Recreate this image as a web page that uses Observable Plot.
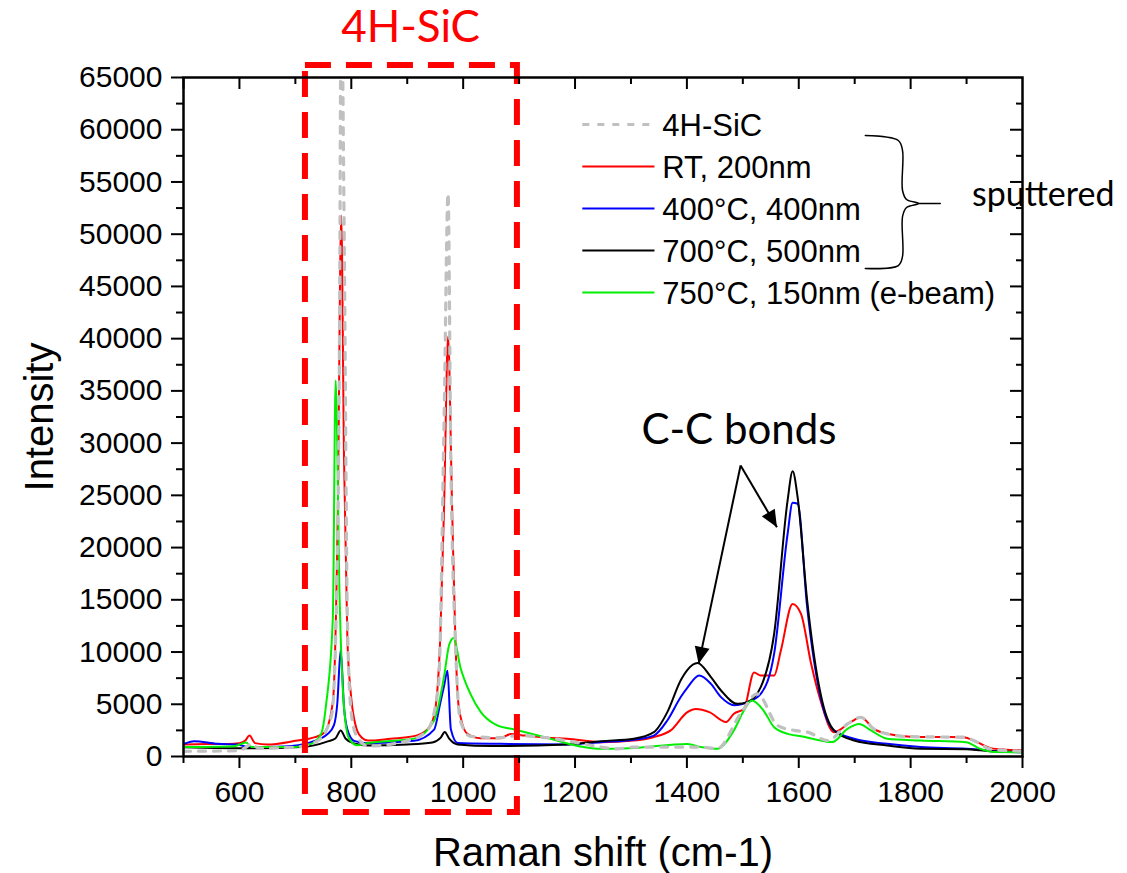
<!DOCTYPE html>
<html><head><meta charset="utf-8">
<script src="https://cdn.jsdelivr.net/npm/d3@7"></script>
<script src="https://cdn.jsdelivr.net/npm/@observablehq/plot@0.6"></script>
<style>body{margin:0;background:#fff} svg{display:block}</style>
</head><body><div id="chart"></div>
<script>
// ---- Data (Raman shift in cm-1, intensity in counts) ----
const sicX = [500,600,612,621,635,700,740,765,773,779,782,787,793,799,808,830,900,936,956,966,973,978,986,995,1013,1067,1097,1216,1246,1276,1305,1425,1454,1496,1526,1562,1592,1616,1652,1687,1711,1734,1758,1800,1850,1894,1919,1943,2000];
const sicY = [500,560,900,1200,800,900,1500,4000,13250,41000,75000,51700,13250,4700,2140,1000,1500,2500,6840,32500,53900,28200,11100,3420,1920,1800,2000,1210,900,730,900,900,750,4100,6000,2970,2500,2330,1530,3120,3750,2650,2170,1900,1870,1850,1370,700,500];

const rtX = [500,540,580,600,610,618,628,650,700,735,752,767,776,782,787,793,799,811,820,830,870,912,936,948,959,966,973,980,986,992,1007,1031,1066,1085,1110,1150,1186,1246,1305,1340,1371,1401,1416,1440,1470,1484,1502,1520,1532,1556,1568,1589,1604,1622,1639,1663,1693,1711,1734,1758,1800,1850,1894,1919,1943,1970,2000];
const rtY = [1150,1200,1200,1280,1500,2000,1280,1150,1500,1850,2300,5200,24000,51800,28500,11300,6100,2400,1750,1520,1700,1950,2600,3900,11300,24300,40200,24300,11300,4800,2200,1750,1750,2150,2000,1800,1700,1370,1530,1850,2500,4250,4550,4250,3300,4100,4550,8050,7750,7750,10150,14600,13650,8900,5350,2330,3300,3750,2650,2170,1900,1870,1850,1370,800,650,600];

const c400X = [500,519,561,597,615,680,728,758,769,775,781,787,793,805,830,912,948,959,966,972,978,990,1067,1186,1246,1305,1341,1365,1389,1401,1422,1443,1461,1485,1508,1532,1556,1580,1589,1598,1615,1639,1663,1699,1758,1818,1900,1925,1950,2000];
const c400Y = [1200,1470,1210,1150,900,960,1380,2170,3000,5100,10200,4700,2570,1500,1280,1500,2570,5100,6800,8200,2600,1300,1210,1150,1370,1600,2000,3450,5700,6600,7750,6950,5680,4900,5200,6000,9850,21300,24300,24200,14300,5680,2500,1700,1210,900,750,650,500,400];

const c700X = [500,620,710,758,772,781,790,805,830,900,945,960,967,975,990,1050,1186,1246,1305,1341,1365,1389,1401,1419,1443,1461,1490,1508,1532,1556,1580,1589,1598,1615,1639,1663,1699,1758,1818,1900,1925,1950,2000];
const c700Y = [880,780,900,1450,1750,2500,1700,1250,1050,1150,1350,1800,2350,1700,1150,1000,1150,1470,1700,2330,4250,7300,8300,8950,7600,6320,5040,5200,6640,11750,24500,27300,24800,14950,6000,2500,1530,1050,730,690,600,500,450];

const c750X = [500,590,612,622,700,728,746,755,767,772,779,787,796,811,829,912,948,966,975,983,995,1013,1031,1060,1090,1156,1216,1246,1305,1401,1425,1454,1484,1502,1516,1537,1556,1580,1609,1639,1660,1687,1708,1729,1758,1818,1899,1925,1950,2000];
const c750Y = [900,980,1350,900,900,1210,2170,5000,13300,36000,15400,4700,1710,1070,1280,1710,3420,7700,10700,11350,8550,6000,4300,3000,2600,1700,900,730,820,1200,900,730,2500,4400,5350,4400,2800,2170,1900,1530,1380,2650,3120,2500,1700,1530,1370,730,420,400];

const seriesNames = ["4H-SiC", "RT, 200nm", "400°C, 400nm", "700°C, 500nm", "750°C, 150nm (e-beam)"];
const seriesColors = ["#c0c0c0", "#ff0000", "#0000ff", "#000000", "#00ee00"];

// tick values
const xMajorTicks = [600, 800, 1000, 1200, 1400, 1600, 1800, 2000];
const xMinorTicks = [500, 700, 900, 1100, 1300, 1500, 1700, 1900];
const yMajorTicks = d3.range(0, 65001, 5000);
const yMinorTicks = d3.range(2500, 65000, 5000);

// annotations (data coordinates)
const boxX = [718, 1097];
const boxY = [-5360, 66150];
const arrowLinks = [
  {x1: 1496, y1: 27860, x2: 1421, y2: 8870},
  {x1: 1496, y1: 27860, x2: 1561, y2: 21950}
];
const braceX = [1719, 1778, 1785.5, 1785.5, 1792.7, 1814, 1792.7, 1785.5, 1785.5, 1778, 1719];
const braceY = [59450, 58970, 58010, 54180, 53320, 52940, 52560, 51690, 47870, 47000, 46720];
const braceStemX = [1814, 1853];
const braceStemY = [52940, 52940];

// ---- Build table ----
const seriesX = [sicX, rtX, c400X, c700X, c750X];
const seriesY = [sicY, rtY, c400Y, c700Y, c750Y];
const rows = seriesNames.flatMap((name, k) => seriesX[k].map((x, i) => ({series: name, x, y: seriesY[k][i]})));

// legend rows (data coords within frame)
const legendY = [60500, 56480, 52460, 48440, 44420];
const legendRows = seriesNames.map((name, i) => ({name, color: seriesColors[i], y: legendY[i]}));
const legX1 = 1213, legX2 = 1342, legTextX = 1356;

const W = 1127, H = 873, ML = 183, MR = 105, MT = 77, MB = 117;
const FW = W - ML - MR, FH = H - MT - MB;
const ARIAL = "'Liberation Sans', Arial, sans-serif";
const CAL = "Lato, 'Open Sans', sans-serif";
const DOTS = "7,8";

const drawOrder = [1, 2, 3, 4, 0];
const lineMarks = drawOrder.map(k => Plot.line(rows.filter(r => r.series === seriesNames[k]), {
  x: "x", y: "y",
  stroke: seriesColors[k],
  strokeWidth: k === 0 ? 3.2 : 2,
  strokeDasharray: k === 0 ? DOTS : null,
  curve: "monotone-x",
  clip: true
}));

const plot = Plot.plot({
  width: W, height: H,
  marginLeft: ML, marginRight: MR, marginTop: MT, marginBottom: MB,
  x: {domain: [500, 2000], axis: null},
  y: {domain: [0, 65000], axis: null},
  style: {fontFamily: ARIAL, fontSize: "30px", color: "black", background: "white", overflow: "visible"},
  marks: [
    ...lineMarks,
    // dashed red box
    Plot.rect([{x1: boxX[0], x2: boxX[1], y1: boxY[0], y2: boxY[1]}], {
      x1: "x1", x2: "x2", y1: "y1", y2: "y2",
      fill: "none", stroke: "#ff0000", strokeWidth: 6, strokeDasharray: "26,15"
    }),
    Plot.text(["4H-SiC"], {x: 906, y: 69740, text: d => d, fill: "#ff0000", fontFamily: CAL, fontSize: 44, textAnchor: "middle", lineAnchor: "middle"}),
    // frame
    Plot.frame({stroke: "black", strokeWidth: 2.5}),
    // bottom axis (outward)
    Plot.axisX({ticks: xMajorTicks, tickSize: 12, tickPadding: 12, tickFormat: d3.format("d"), fontSize: 30, strokeWidth: 2, label: null}),
    Plot.tickX(xMinorTicks, {x: d => d, insetTop: FH, insetBottom: -7, stroke: "black", strokeWidth: 2}),
    // left axis (outward)
    Plot.axisY({ticks: yMajorTicks, tickSize: 12, tickPadding: 9, tickFormat: d3.format("d"), fontSize: 30, strokeWidth: 2, label: null}),
    Plot.tickY(yMinorTicks, {y: d => d, insetRight: FW, insetLeft: -7, stroke: "black", strokeWidth: 2}),
    // top axis (inward)
    Plot.tickX(xMajorTicks.concat([500]).filter(v => v < 2000), {x: d => d, insetBottom: FH - 12, stroke: "black", strokeWidth: 2}),
    Plot.tickX(xMinorTicks.filter(v => v > 500), {x: d => d, insetBottom: FH - 7, stroke: "black", strokeWidth: 2}),
    // right axis (inward)
    Plot.tickY(yMajorTicks.filter(v => v > 0 && v < 65000), {y: d => d, insetLeft: FW - 12, stroke: "black", strokeWidth: 2}),
    Plot.tickY(yMinorTicks, {y: d => d, insetLeft: FW - 6, stroke: "black", strokeWidth: 2}),
    // axis titles
    Plot.text(["Intensity"], {frameAnchor: "left", text: d => d, rotate: -90, dx: -143, fontSize: 40, lineAnchor: "middle", textAnchor: "middle"}),
    Plot.text(["Raman shift (cm-1)"], {frameAnchor: "bottom", text: d => d, dy: 97, fontSize: 40, lineAnchor: "middle", textAnchor: "middle"}),
    // legend
    Plot.link(legendRows, {x1: legX1, x2: legX2, y1: "y", y2: "y", stroke: "color", strokeWidth: 2}),
    Plot.text(legendRows, {x: legTextX, y: "y", text: "name", textAnchor: "start", lineAnchor: "middle", fontSize: 31, fill: "black", dy: 2}),
    // brace + sputtered
    Plot.line(braceX.map((x, i) => ({x, y: braceY[i]})), {x: "x", y: "y", stroke: "black", strokeWidth: 1.5, curve: "catmull-rom"}),
    Plot.line(braceStemX.map((x, i) => ({x, y: braceStemY[i]})), {x: "x", y: "y", stroke: "black", strokeWidth: 1.5}),
    Plot.text(["sputtered"], {x: 2037, y: 53700, text: d => d, fontFamily: CAL, fontSize: 34, textAnchor: "middle", lineAnchor: "middle"}),
    // C-C bonds
    Plot.text(["C-C bonds"], {x: 1493, y: 31210, text: d => d, fontFamily: CAL, fontSize: 42, textAnchor: "middle", lineAnchor: "middle"}),
    Plot.link(arrowLinks, {x1: "x1", y1: "y1", x2: "x2", y2: "y2", stroke: "black", strokeWidth: 2, markerEnd: "arrow"})
  ]
});

// Filled arrowheads
d3.select(plot).selectAll("marker").each(function () {
  const m = d3.select(this);
  m.attr("viewBox", "-18 -8 20 16").attr("markerUnits", "userSpaceOnUse")
   .attr("markerWidth", 20).attr("markerHeight", 16)
   .attr("refX", 0).attr("refY", 0)
   .attr("fill", "black").attr("stroke", "none");
  m.selectAll("*").remove();
  m.append("path").attr("d", "M-17,-7.5L0,0L-17,7.5Z");
});

document.getElementById("chart").appendChild(plot);
// dotted sample and thicker stroke for the 4H-SiC legend row
const linkGroups = plot.querySelectorAll("g[aria-label='link']");
if (linkGroups.length) {
  const first = linkGroups[0].querySelector("path, line");
  if (first) { first.setAttribute("stroke-dasharray", DOTS); first.setAttribute("stroke-width", "3.2"); }
}
</script>
</body></html>
